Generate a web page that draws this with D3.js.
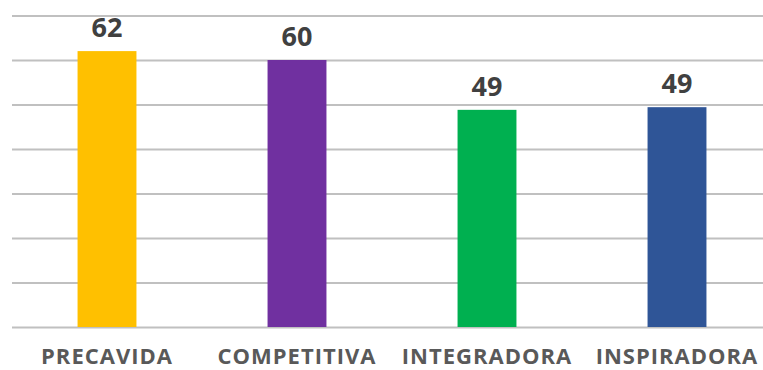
<!DOCTYPE html>
<html>
  <head>
    <meta charset="utf-8">
    <style>
      body { margin: 0; background: #fff; }
      svg { display: block; }
    </style>
  </head>
  <body>
    <div id="chart"></div>
    <script src="https://d3js.org/d3.v7.min.js"></script>
    <script>
    // data
    var categories = ["PRECAVIDA", "COMPETITIVA", "INTEGRADORA", "INSPIRADORA"];
    var values = [62, 60, 48.8, 49.4];
    var colors = ["#FFC000", "#7030A0", "#00B050", "#2F5597"];
    var yTicks = [0, 10, 20, 30, 40, 50, 60, 70];

    var width = 763, height = 370;

    var svg = d3.select("#chart").append("svg")
        .attr("width", width)
        .attr("height", height);

    var x = d3.scaleBand()
        .domain(categories)
        .range([12, 772])
        .paddingInner(0.69)
        .paddingOuter(0.345);

    var y = d3.scaleLinear()
        .domain([0, 70])
        .range([327, 15.5]);

    // gridlines
    var grid = svg.append("g")
        .attr("transform", "translate(12,0)")
        .call(d3.axisLeft(y).tickValues(yTicks).tickSize(-(width - 12)).tickFormat(""));
    grid.select(".domain").remove();
    grid.selectAll(".tick line")
        .attr("stroke", "#c0c0c0")
        .attr("stroke-width", 2);

    // bars
    svg.append("g").selectAll("rect")
        .data(values)
        .enter().append("rect")
        .attr("x", function(d, i) { return x(categories[i]); })
        .attr("y", function(d) { return y(d); })
        .attr("width", x.bandwidth())
        .attr("height", function(d) { return y(0) - y(d); })
        .attr("fill", function(d, i) { return colors[i]; });

    // value labels
    svg.append("g").selectAll("text")
        .data(values)
        .enter().append("text")
        .attr("x", function(d, i) { return x(categories[i]) + x.bandwidth() / 2; })
        .attr("y", function(d) { return y(d) - 14; })
        .attr("text-anchor", "middle")
        .style("font-family", "'Open Sans', sans-serif")
        .style("font-weight", "700")
        .style("font-size", "27px")
        .style("fill", "#404040")
        .text(function(d) { return d3.format(".0f")(d); });

    // category labels
    var xAxis = svg.append("g")
        .attr("transform", "translate(0,327)")
        .call(d3.axisBottom(x).tickSize(0).tickPadding(0));
    xAxis.select(".domain").remove();
    xAxis.selectAll("text")
        .attr("dy", 0)
        .attr("y", 37)
        .style("font-family", "'Open Sans', sans-serif")
        .style("font-weight", "700")
        .style("font-size", "22px")
        .style("letter-spacing", "1px")
        .style("fill", "#595959");
    </script>
  </body>
</html>
